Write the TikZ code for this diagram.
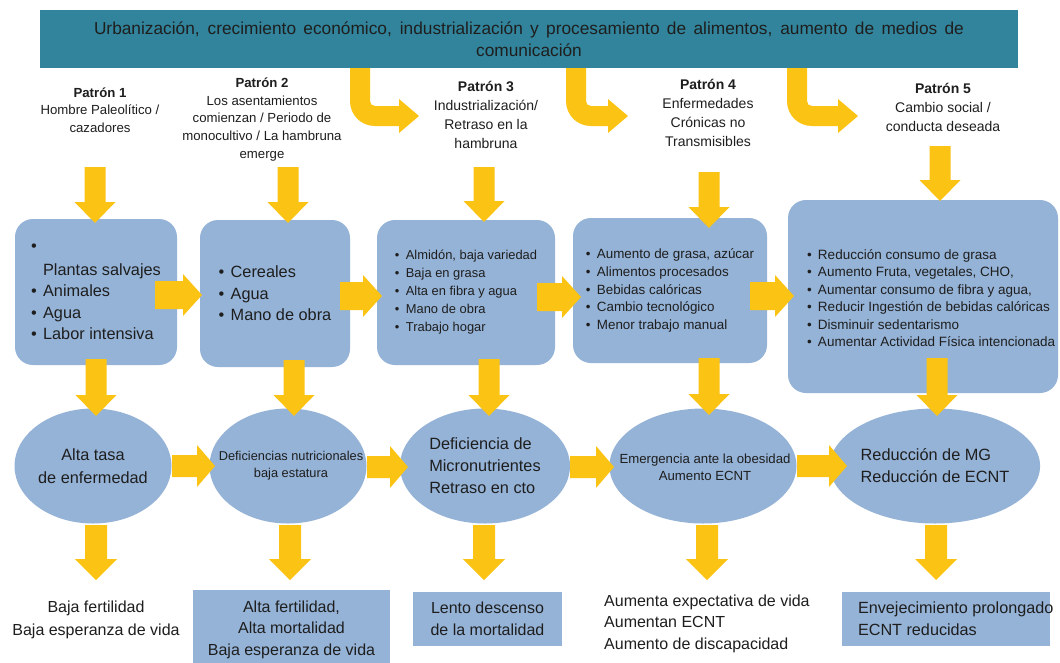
\documentclass[tikz,border=0pt]{standalone}
\usepackage{fontspec}
\setmainfont{Liberation Sans}
\usetikzlibrary{shapes.geometric,calc}
\definecolor{bannerteal}{HTML}{31849B}
\definecolor{boxblue}{HTML}{95B3D7}
\definecolor{arrowgold}{HTML}{FBC313}
\definecolor{txt}{HTML}{1E1E1E}
\newcommand\bul{\makebox[12pt][l]{•}}
\newcommand\bulsm{\makebox[11pt][l]{•}}
% block arrow pointing down: #1 shaft half width, #2 head half width, #3 start, #4 tip
\newcommand\bdown[4]{%
  \fill[arrowgold] let \p1=(#3), \p2=(#4) in
  (\x1-#1,\y1) -- (\x1+#1,\y1) -- (\x1+#1,\y2+21pt) -- (\x1+#2,\y2+21pt) --
  (\x1,\y2) -- (\x1-#2,\y2+21pt) -- (\x1-#1,\y2+21pt) -- cycle;}
% block arrow pointing right: #1 shaft half, #2 head half, #3 head length, #4 start, #5 tip
\newcommand\bright[5]{%
  \fill[arrowgold] let \p1=(#4), \p2=(#5) in
  (\x1,\y1+#1) -- (\x2-#3,\y1+#1) -- (\x2-#3,\y1+#2) -- (\x2,\y1) --
  (\x2-#3,\y1-#2) -- (\x2-#3,\y1-#1) -- (\x1,\y1-#1) -- cycle;}
% bent arrow: #1 stem top-left, #2 tip
\newcommand\bbent[2]{%
  \fill[arrowgold] let \p1=(#1), \p2=(#2) in
  (\x1,\y1) -- (\x1,\y2+15pt) .. controls (\x1,\y2+1pt) and (\x1+11pt,\y2-10pt) .. (\x1+25pt,\y2-10pt)
  -- (\x2-20pt,\y2-10pt) -- (\x2-20pt,\y2-17pt) -- (\x2,\y2) -- (\x2-20pt,\y2+17pt)
  -- (\x2-20pt,\y2+10pt) -- (\x1+25pt,\y2+10pt) .. controls (\x1+22pt,\y2+10pt) and (\x1+20pt,\y2+12pt) .. (\x1+20pt,\y2+15pt)
  -- (\x1+20pt,\y1) -- cycle;}
\tikzset{
  bannerbox/.style={fill=bannerteal, minimum width=978pt, minimum height=58pt, inner sep=0pt, align=center, text=txt,
    font=\fontsize{17.3}{22}\selectfont},
  hd/.style={align=center, text=txt, inner sep=0pt},
  hdsm/.style={font=\fontsize{13.2}{17.7}\selectfont},
  hdlg/.style={font=\fontsize{14}{19}\selectfont},
  rbox/.style={fill=boxblue, rounded corners=18pt, inner sep=0pt, align=left, text=txt},
  ebox/.style={ellipse, fill=boxblue, inner sep=0pt, align=center, text=txt},
  sqbox/.style={fill=boxblue, inner sep=0pt, align=center, text=txt},
  plain/.style={inner sep=0pt, text=txt},
  bigtxt/.style={font=\fontsize{16.3}{21.5}\selectfont},
  smtxt/.style={font=\fontsize{12.9}{18}\selectfont},
}
\begin{document}
\begin{tikzpicture}[x=1pt,y=-1pt]
\useasboundingbox (0,0) rectangle (1060,662);
\fill[white] (0,0) rectangle (1060,662);

% banner
\node[bannerbox] (ban) at (529,39) {\makebox[870pt][s]{Urbanización, crecimiento económico, industrialización y procesamiento de alimentos, aumento de medios de}\\comunicación};

% headings
\node[hd,hdsm] (h1) at (100,110) {\textbf{Patrón 1}\\Hombre Paleolítico /\\cazadores};
\node[hd,hdsm] (h2) at (262,119.5) {\textbf{Patrón 2}\\Los asentamientos\\comienzan / Periodo de\\monocultivo / La hambruna\\emerge};
\node[hd,hdlg] (h3) at (486,114.5) {\textbf{Patrón 3}\\Industrialización/\\Retraso en la\\hambruna};
\node[hd,hdlg] (h4) at (708,113) {\textbf{Patrón 4}\\Enfermedades\\Crónicas no\\Transmisibles};
\node[hd,hdlg] (h5) at (943,107) {\textbf{Patrón 5}\\Cambio social /\\conducta deseada};

% boxes
\node[rbox,bigtxt,minimum width=162pt,minimum height=146pt] (b1) at (96,292)
  {\bul\\[2.5pt]\hphantom{\bul}Plantas salvajes\\\bul Animales\\\bul Agua\\\bul Labor intensiva};
\node[rbox,bigtxt,minimum width=150pt,minimum height=147pt] (b2) at (275,293.5)
  {\bul Cereales\\\bul Agua\\\bul Mano de obra};
\node[rbox,smtxt,minimum width=178pt,minimum height=145pt] (b3) at (466,292.5)
  {\bulsm Almidón, baja variedad\\\bulsm Baja en grasa\\\bulsm Alta en fibra y agua\\\bulsm Mano de obra\\\bulsm Trabajo hogar};
\node[rbox,font=\fontsize{13.4}{17.6}\selectfont,minimum width=194pt,minimum height=145pt] (b4) at (670,290.5)
  {\bulsm Aumento de grasa, azúcar\\\bulsm Alimentos procesados\\\bulsm Bebidas calóricas\\\bulsm Cambio tecnológico\\\bulsm Menor trabajo manual};
\node[rbox,minimum width=270pt,minimum height=193pt] (b5) at (923,296.5) {};
\node[plain,align=left,anchor=west,font=\fontsize{13.5}{17.4}\selectfont] (b5t) at ($(b5.west)+(19,1.5)$)
  {\bulsm Reducción consumo de grasa\\\bulsm Aumento Fruta, vegetales, CHO,\\\bulsm Aumentar consumo de fibra y agua,\\\bulsm Reducir Ingestión de bebidas calóricas\\\bulsm Disminuir sedentarismo\\\bulsm Aumentar Actividad Física intencionada};

% ellipses
\node[ebox,minimum width=157pt,minimum height=115pt,font=\fontsize{16.3}{23}\selectfont] (e1) at (93,466) {Alta tasa\\de enfermedad};
\node[ebox,minimum width=157pt,minimum height=115pt] (e2) at (288,466) {};
\node[plain,align=center,font=\fontsize{12.8}{17}\selectfont] (e2t) at (291,466) {Deficiencias nutricionales\\baja estatura};
\node[ebox,minimum width=170pt,minimum height=115pt,font=\fontsize{16.3}{22}\selectfont,align=left] (e3) at (485,466) {Deficiencia de\\Micronutrientes\\Retraso en cto};
\node[ebox,minimum width=187pt,minimum height=115pt] (e4) at (703,466) {};
\node[plain,align=center,font=\fontsize{13.2}{17}\selectfont] (e4t) at (705,467) {Emergencia ante la obesidad\\Aumento ECNT};
\node[ebox,minimum width=185pt,minimum height=115pt,font=\fontsize{16.3}{22}\selectfont,align=left] (e5) at (935,466) {Reducción de MG\\Reducción de ECNT};

% bottom results
\node[plain,align=center,font=\fontsize{16}{23}\selectfont] (r1) at (96,620) {Baja fertilidad\\Baja esperanza de vida};
\node[sqbox,minimum width=197pt,minimum height=80pt] (r2box) at (291.5,630) {};
\node[plain,align=center,font=\fontsize{16}{21.5}\selectfont] (r2) at (291.5,629.5) {Alta fertilidad,\\Alta mortalidad\\Baja esperanza de vida};
\node[sqbox,minimum width=149pt,minimum height=54pt,font=\fontsize{16}{22}\selectfont] (r3) at (487.5,618.5) {Lento descenso\\de la mortalidad};
\node[plain,align=left,anchor=west,font=\fontsize{16}{21.5}\selectfont] (r4) at (604,623.5) {Aumenta expectativa de vida\\Aumentan ECNT\\Aumento de discapacidad};
\node[sqbox,minimum width=208pt,minimum height=54pt] (r5box) at (946,618.5) {};
\node[plain,align=left,anchor=west,font=\fontsize{16.2}{22}\selectfont] (r5) at ($(r5box.west)+(16,0)$) {Envejecimiento prolongado\\ECNT reducidas};

% arrow end points
\coordinate (bt1) at (350,68);  \coordinate (bt1e) at (419,116);
\coordinate (bt2) at (566,68);  \coordinate (bt2e) at (628,116);
\coordinate (bt3) at (787,68);  \coordinate (bt3e) at (858,116);

\coordinate (d1a) at (95,167);  \coordinate (d1b) at (95,223);
\coordinate (d2a) at (288,167); \coordinate (d2b) at (288,223);
\coordinate (d3a) at (484,167); \coordinate (d3b) at (484,222);
\coordinate (d4a) at (709,172); \coordinate (d4b) at (709,228);
\coordinate (d5a) at (940,146); \coordinate (d5b) at (940,201);

\coordinate (m1a) at (96,359);  \coordinate (m1b) at (96,416);
\coordinate (m2a) at (294,360); \coordinate (m2b) at (294,416);
\coordinate (m3a) at (489,359); \coordinate (m3b) at (489,416);
\coordinate (m4a) at (709,358); \coordinate (m4b) at (709,415);
\coordinate (m5a) at (937,358); \coordinate (m5b) at (937,416);

\coordinate (l1a) at (96,525);  \coordinate (l1b) at (96,580);
\coordinate (l2a) at (290,525); \coordinate (l2b) at (290,580);
\coordinate (l3a) at (484,525); \coordinate (l3b) at (484,580);
\coordinate (l4a) at (707,525); \coordinate (l4b) at (707,580);
\coordinate (l5a) at (936,525); \coordinate (l5b) at (936,580);

\coordinate (s1a) at (155,295); \coordinate (s1b) at (202,295);
\coordinate (s2a) at (340,296); \coordinate (s2b) at (382,296);
\coordinate (s3a) at (537,297); \coordinate (s3b) at (581,297);
\coordinate (s4a) at (750,296); \coordinate (s4b) at (794,296);

\coordinate (t1a) at (172,466); \coordinate (t1b) at (215,466);
\coordinate (t2a) at (367,467); \coordinate (t2b) at (408,467);
\coordinate (t3a) at (570,467); \coordinate (t3b) at (614,467);
\coordinate (t4a) at (797,466); \coordinate (t4b) at (847,466);

% arrows
\bbent{bt1}{bt1e} \bbent{bt2}{bt2e} \bbent{bt3}{bt3e}
\bdown{10.5pt}{20.5pt}{d1a}{d1b} \bdown{10.5pt}{20.5pt}{d2a}{d2b} \bdown{10.5pt}{20.5pt}{d3a}{d3b}
\bdown{10.5pt}{20.5pt}{d4a}{d4b} \bdown{10.5pt}{20.5pt}{d5a}{d5b}
\bdown{10.5pt}{20.5pt}{m1a}{m1b} \bdown{10.5pt}{20.5pt}{m2a}{m2b} \bdown{10.5pt}{20.5pt}{m3a}{m3b}
\bdown{10.5pt}{20.5pt}{m4a}{m4b} \bdown{10.5pt}{20.5pt}{m5a}{m5b}
\bdown{11pt}{21pt}{l1a}{l1b} \bdown{11pt}{21pt}{l2a}{l2b} \bdown{11pt}{21pt}{l3a}{l3b}
\bdown{11pt}{21pt}{l4a}{l4b} \bdown{11pt}{21pt}{l5a}{l5b}
\bright{14pt}{21pt}{19pt}{s1a}{s1b} \bright{14pt}{21pt}{19pt}{s2a}{s2b}
\bright{14pt}{21pt}{19pt}{s3a}{s3b} \bright{14pt}{21pt}{19pt}{s4a}{s4b}
\bright{11pt}{21pt}{18pt}{t1a}{t1b} \bright{11pt}{21pt}{18pt}{t2a}{t2b}
\bright{11pt}{21pt}{18pt}{t3a}{t3b} \bright{11pt}{21pt}{18pt}{t4a}{t4b}
\end{tikzpicture}
\end{document}
